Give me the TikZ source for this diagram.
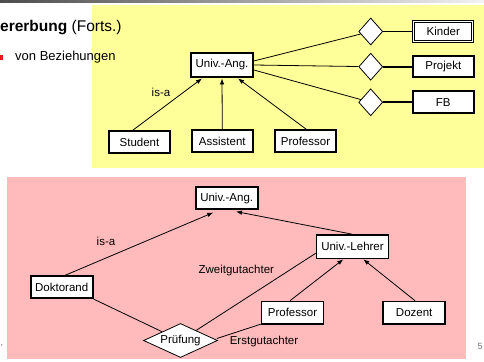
\documentclass[tikz,border=0pt]{standalone}
\usepackage{fontspec}
\setmainfont{Liberation Sans}
\usetikzlibrary{shapes.geometric,arrows.meta}
\definecolor{ylw}{RGB}{255,255,153}
\definecolor{pnk}{RGB}{255,187,187}
\definecolor{bull}{RGB}{220,30,30}
\tikzset{
  ent/.style={draw, line width=1.7pt, fill=white, inner sep=0pt,
    minimum width=62pt, minimum height=22pt, font=\fontsize{11.5}{13}\selectfont},
  weak/.style={ent, line width=0.9pt, double=white, double distance=1.3pt},
  rel/.style={draw, diamond, line width=0.8pt, fill=white, inner sep=0pt,
    minimum width=24pt, minimum height=27pt},
  bigrel/.style={draw, diamond, shape aspect=2.2, line width=0.8pt, fill=white, inner sep=0pt,
    minimum width=74pt, minimum height=34pt, font=\fontsize{11.5}{13}\selectfont},
  isa/.style={line width=0.8pt, -{Latex[length=6pt,width=4.5pt]}},
  conn/.style={line width=0.8pt},
  thickconn/.style={line width=1.8pt},
  lbl/.style={inner sep=0pt, font=\fontsize{11.5}{13}\selectfont},
}
\begin{document}
\begin{tikzpicture}[x=1pt,y=-1pt]
\useasboundingbox (0,0) rectangle (484,361);
% top bar
\shade[left color=black!70, right color=black!5] (0,0) rectangle (484,3);
% backgrounds
\fill[ylw] (92,5) rectangle (484,168);
\fill[pnk] (7,177) rectangle (466,359);
% title
\node[anchor=west, inner sep=0pt, font=\fontsize{15.5}{18}\selectfont] (title) at (0,28) {\textbf{ererbung} (Forts.)};
\fill[bull] (0,55.5) rectangle (2.5,60);
\node[anchor=west, inner sep=0pt, font=\fontsize{13}{15}\selectfont] (sub) at (15,57) {von Beziehungen};
\node[anchor=center, inner sep=0pt, text=black!55, font=\fontsize{9}{10}\selectfont] (lp) at (2,346) {,};
\node[anchor=center, inner sep=0pt, text=black!55, font=\fontsize{9}{10}\selectfont] (rp) at (480,346) {5};

% ---- upper diagram ----
\node[ent, minimum height=24pt] (ua) at (222,65) {Univ.-Ang.};
\node[weak, minimum width=59pt, minimum height=19.5pt] (kin) at (443.3,31.5) {Kinder};
\node[ent, minimum width=61pt, minimum height=21pt] (prj) at (443.3,66.7) {Projekt};
\node[ent, minimum width=61pt, minimum height=22pt] (fb) at (443.3,102.3) {FB};
\node[rel] (r1) at (370.7,31.5) {};
\node[rel] (r2) at (370.7,66.7) {};
\node[rel] (r3) at (370.7,102.3) {};
\node[ent, minimum width=61pt, minimum height=22pt] (stu) at (139.5,142.3) {Student};
\node[ent, minimum width=61pt, minimum height=22pt] (ast) at (222.3,141.3) {Assistent};
\node[ent, minimum width=61pt, minimum height=22pt] (pro) at (305.5,141.3) {Professor};
\node[lbl] (l1) at (161,92) {is-a};

\draw[conn] ([yshift=4pt]ua.east) -- (r1);
\draw[conn] (ua.east) -- (r2);
\draw[conn] ([yshift=-5pt]ua.east) -- (r3);
\draw[thickconn] (r1) -- (kin);
\draw[thickconn] (r2) -- (prj);
\draw[thickconn] (r3) -- (fb);
\draw[isa] ([xshift=-7pt]stu.north) -- ([xshift=-20pt,yshift=-0.6pt]ua.south);
\draw[isa] (ast.north) -- ([yshift=-0.6pt]ua.south);
\draw[isa] ([xshift=1pt]pro.north) -- ([xshift=16pt,yshift=-0.6pt]ua.south);

% ---- lower diagram ----
\node[ent, minimum width=62pt, minimum height=22pt] (bua) at (226.7,198.3) {Univ.-Ang.};
\node[ent, minimum width=72pt, minimum height=23.5pt] (ul) at (352.5,246.7) {Univ.-Lehrer};
\node[ent, minimum width=62pt, minimum height=22pt] (dok) at (61.7,287.2) {Doktorand};
\node[ent, minimum width=62pt, minimum height=22.5pt] (pro2) at (292.5,312.8) {Professor};
\node[ent, minimum width=62pt, minimum height=22.5pt] (doz) at (414.2,312.8) {Dozent};
\node[bigrel] (pr) at (180.5,340.5) {Prüfung};
\node[lbl] (l2) at (106,241.7) {is-a};
\node[lbl] (l3) at (236.3,270.7) {Zweitgutachter};
\node[lbl] (l4) at (264,342) {Erstgutachter};

\draw[isa] ([xshift=3.3pt]dok.north) -- ([xshift=-13.4pt,yshift=-2.4pt]bua.south);
\draw[isa] ([xshift=-0.8pt]ul.north) -- ([xshift=9.3pt,yshift=-1.4pt]bua.south);
\draw[isa] ([xshift=-2.5pt]pro2.north) -- ([xshift=-9.2pt]ul.south);
\draw[isa] ([xshift=0.8pt]doz.north) -- ([xshift=10.8pt]ul.south);
\draw[conn] (dok.south east) -- (pr);
\draw[conn] (pr) -- ([yshift=-6.6pt]ul.west);
\draw[conn] ([xshift=-1pt,yshift=2pt]pr.east) -- ([yshift=0.7pt]pro2.south west);
\end{tikzpicture}
\end{document}
